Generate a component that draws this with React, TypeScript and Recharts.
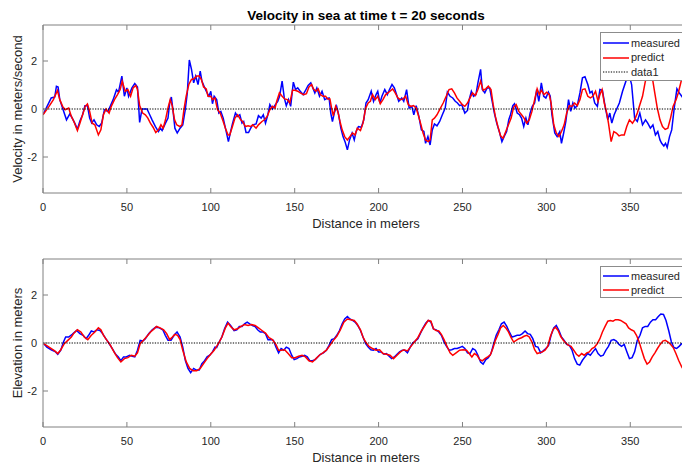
import React from 'react';
import { LineChart, Line, XAxis, YAxis, Legend } from 'recharts';

type Pt = [number, number];

// Axis setup shared by both panels
const distanceTicks = [0, 50, 100, 150, 200, 250, 300, 350];
const valueTicks = [-2, 0, 2];
const distanceDomain: [number, number] = [0, 385];
const valueDomain: [number, number] = [-3.5, 3.5];

// Velocity (m/s) along the distance (m)
const velocityMeasured: Pt[] = [
  [0, -0.24], [4.9, 0.46], [7, 0.5], [8, 0.95], [9, 0.92], [10, 0.39], [12, -0.03], [14, -0.45], [16, -0.2], [17.4, -0.38],
  [19, -0.6], [20.5, -0.84], [22, -0.5], [23.6, -0.24], [25, 0.14], [26.5, 0.14], [27.8, -0.38], [29, -0.58], [30.4, -0.45], [32, -0.66],
  [33.5, -0.73], [35, -0.58], [36.6, -0.03], [38.7, -0.1], [40, 0.1], [41.8, 0.39], [43.8, 0.8], [45, 0.7], [47, 1.37], [48.5, 0.53],
  [50, 0.88], [51, 0.53], [53, 0.88], [54.7, 1.06], [56.3, 0.92], [57.6, -0.56], [59, 0], [62, 0], [63.6, -0.24], [65, -0.45],
  [67, -0.73], [68.8, -0.94], [70, -0.8], [71, -0.9], [73, -0.59], [74.5, -0.38], [75.5, 0.25], [76.5, 0.5], [77.6, -0.14], [78.6, -0.8],
  [80, -1.0], [81.7, -0.8], [83.3, -0.66], [84.8, -0.03], [86, 0.67], [87.2, 2.04], [88.5, 1.65], [89.8, 1.09], [91, 1.37], [92.4, 1.02],
  [93.7, 1.58], [94.7, 1.16], [96, 0.95], [97.3, 0.74], [98.9, 0.53], [100, 0.74], [101, 0.22], [102, 0.53], [103.5, 0.39], [104.8, -0.17],
  [106, -0.1], [107.4, -0.38], [109.2, -0.94], [110.5, -1.36], [111.8, -0.94], [113, -0.59], [114.7, -0.17], [116, -0.31], [117.3, -0.24], [118.6, -0.59],
  [119.6, -0.52], [121, -0.98], [122.5, -0.98], [123.8, -0.8], [125, -0.66], [127, -0.62], [128.4, -0.28], [130, -0.38], [131.3, -0.24], [132.6, -0.59],
  [134, -0.24], [135.2, 0.18], [136.7, 0], [138.5, 0.18], [139.9, 0.32], [141, 0.53], [142.5, 1.16], [143.8, 0.46], [145, 0.14], [146.3, 0.39],
  [147.6, 0.11], [149.2, 1.12], [150.5, 0.81], [151.8, 0.88], [153.3, 0.74], [155, 0.6], [156.2, 0.74], [158, 0.98], [159.6, 1.09], [160.6, 0.92],
  [162, 0.67], [163.2, 0.88], [164.8, 0.53], [166.3, 0.74], [167.9, 0.39], [169, 0.43], [170.5, 0.46], [171.5, -0.17], [172.5, -0.52], [173.6, -0.17],
  [175, 0.11], [176.2, -0.24], [177.5, -0.8], [178.8, -1.15], [180, -1.36], [181.4, -1.7], [182.7, -1.29], [184.2, -1.0], [185.5, -1.29], [186.6, -0.94],
  [188, -0.73], [189.7, -0.76], [191.2, -0.45], [192.5, 0.25], [193.8, 0.39], [195.6, 0.74], [197, 0.32], [198.5, 0.6], [199.5, 0.74], [200.8, 0.25],
  [202, 0.53], [203.7, 0.81], [205.2, 0.6], [206.5, 0.81], [208, 1.02], [209.4, 0.88], [210.7, 0.6], [212, 0.32], [213.8, 0.46], [215, 0.32],
  [216.7, 0.81], [218.2, 0.04], [219.8, 0.11], [221, -0.24], [222.4, 0.14], [224, -0.31], [225.5, -0.87], [227, -0.94], [228, -1.43], [229.4, -1.15],
  [230.7, -1.5], [232, -0.87], [233.3, -0.62], [234.8, -0.7], [236.4, -0.52], [238, -0.24], [239.7, 0.04], [241, 0.7], [242.6, 0.53], [244.2, 0.46],
  [245.7, 0.32], [247, 0.25], [248.3, 0.14], [249.6, 0.18], [251.4, -0.17], [253, -0.06], [254, 0.39], [255.3, 0.74], [256.6, 0.53], [258, 0.6],
  [259.2, 1.09], [260.8, 1.65], [261.8, 0.81], [263.3, 0.67], [264.7, 0.88], [266.2, 0.88], [267.5, 0.39], [269, -0.17], [270.4, -0.59], [272.2, -1.0],
  [273.5, -1.36], [274.8, -1.15], [276.3, -0.94], [277.6, -0.45], [278.6, -0.24], [280, 0.14], [281, 0.22], [282.6, -0.17], [284, -0.24], [285.2, -0.38],
  [286.5, -0.73], [287.8, -0.38], [289, -0.66], [290.3, -0.17], [291.6, 0.11], [293, 0.25], [294.2, 0.81], [295.5, 0.32], [297, 1.09], [298.4, 0.53],
  [299.7, 0.46], [301.2, 0.7], [302.3, 0.53], [303.3, -0.24], [305, -1.0], [306.4, -1.15], [308, -0.94], [309, -1.43], [310.3, -1.0], [311.6, -0.52],
  [313.2, 0.39], [314.5, -0.1], [315.8, 0.25], [317, 0.04], [318.4, 0.14], [320, 0.67], [321.5, 1.3], [323, 1.34], [324.7, 1.02], [326, 0.67],
  [327.2, 0.74], [328.8, 0.25], [330.4, 0.11], [331.9, 0.81], [333.4, 0.78], [335, 0.11], [336.6, -0.45], [337.8, -0.17], [339, -0.59], [340.4, -0.24],
  [341.7, -0.03], [343.5, 0.25], [345.4, 0.74], [347.4, 1.16], [349.5, 1.37], [350.8, 1.02], [352.6, -0.38], [354.2, -0.52], [355.7, -0.17], [357.3, -0.66],
  [359.1, -0.45], [360.4, -0.59], [362, -0.8], [363.5, -0.66], [365, -1.08], [366.4, -0.94], [367.7, -1.29], [368.7, -1.43], [370, -1.54], [371, -1.43],
  [372, -1.6], [373.4, -1.15], [374.7, -0.87], [376.3, 0.1], [377.8, 0.84], [379.2, 0.67], [381, 0.5], [383, 0.3],
];

const velocityPredict: Pt[] = [
  [0, -0.24], [3.6, 0.11], [6.2, 0.39], [8.6, 0.77], [10, 0.39], [11.7, 0.11], [13.2, -0.03], [15.3, 0.04], [16.9, -0.31], [18.4, -0.52],
  [20.5, -0.9], [22, -0.59], [23.6, -0.24], [25.2, 0.11], [26.5, 0.21], [27.8, -0.1], [29.3, -0.59], [30.9, -0.66], [33, -1.08], [34.5, -0.87],
  [36, -0.24], [37.6, 0], [39.4, -0.17], [40.7, 0.11], [42.6, 0.39], [44.4, 0.6], [46, 0.81], [47.2, 1.16], [49, 0.74], [50.6, 0.81],
  [52.2, 0.53], [53.7, 0.88], [55.3, 0.98], [56.3, 0.81], [57.6, 0.14], [59.4, -0.17], [61, -0.24], [62.5, -0.38], [64, -0.59], [65.6, -0.76],
  [67.2, -0.98], [68.8, -0.87], [70.3, -0.66], [71.6, -0.8], [73, -0.45], [74.5, 0.04], [75.8, 0.39], [77, 0.14], [78.4, -0.45], [79.7, -0.66],
  [81.5, -0.73], [82.8, -0.66], [84, -0.03], [85.3, 0.53], [86.9, 1.02], [88.5, 1.23], [90, 1.26], [91.6, 1.37], [93.1, 1.37], [94.4, 1.23],
  [95.7, 0.92], [97.3, 0.84], [98.3, 0.53], [100, 0.53], [101, 0.39], [102.5, 0.46], [104, -0.03], [105.6, -0.17], [107.4, -0.52], [108.7, -0.8],
  [110.3, -1.08], [111.3, -1.08], [112.9, -0.73], [114.4, -0.38], [116, -0.24], [117.8, -0.45], [119, -0.52], [120.6, -0.73], [122.2, -0.7], [123.8, -0.73],
  [125, -0.66], [127, -0.8], [128.4, -0.66], [130.5, -0.52], [132, -0.45], [133.6, -0.31], [135.2, -0.03], [136.7, 0.11], [138.3, 0.04], [139.3, 0.32],
  [140.9, 0.67], [142.5, 0.53], [144, 0.42], [145.6, 0.39], [147.1, 0.25], [148.7, 0.78], [150.2, 0.78], [151.8, 0.74], [153.3, 0.67], [155.4, 0.6],
  [157, 0.64], [158.5, 0.92], [160.1, 1.02], [161.1, 0.84], [162.7, 0.74], [164, 0.84], [165.3, 0.6], [166.8, 0.53], [168.4, 0.53], [169.7, 0.42],
  [171, 0.42], [172, 0.04], [173, -0.28], [174.4, 0.11], [175.7, -0.1], [177, -0.52], [178.3, -0.87], [179.8, -1.15], [181.4, -1.29], [182.9, -1.15],
  [184.5, -1.0], [186, -1.08], [187.3, -0.8], [189.2, -0.9], [190.7, -0.59], [192.3, 0.04], [193.8, 0.25], [195.1, 0.32], [196.4, 0.6], [198, 0.39],
  [199.5, 0.53], [201, 0.22], [202.6, 0.39], [204.2, 0.6], [205.5, 0.67], [206.8, 0.74], [208.4, 0.84], [209.9, 0.67], [211.5, 0.46], [213, 0.39],
  [214.6, 0.42], [216.1, 0.53], [217.7, 0.18], [219.3, 0.11], [220.8, 0.14], [222.4, 0.04], [223.6, -0.24], [225, -0.59], [226.5, -1.0], [228, -1.29],
  [229.6, -1.36], [230.7, -1.29], [232, -0.45], [233.3, -0.38], [234.8, -0.24], [236.4, -0.03], [238.5, 0.25], [240.5, 0.56], [242, 0.81], [243.6, 0.84],
  [245.2, 0.67], [246.7, 0.46], [248.3, 0.32], [249.9, 0.18], [251.4, 0.11], [253, 0.25], [254.5, 0.46], [256, 0.67], [257.7, 0.56], [259.2, 0.81],
  [260.8, 1.16], [262.3, 0.78], [263.9, 0.84], [265.4, 0.95], [267, 0.81], [268.3, 0.18], [269.6, -0.31], [271.1, -0.73], [272.7, -1.12], [274.2, -1.22],
  [275.8, -0.94], [277.4, -0.66], [279, -0.38], [280.5, 0.08], [282, 0.18], [283.6, -0.1], [285.2, -0.24], [286.7, -0.38], [288.3, -0.59], [289.8, -0.45],
  [291.4, -0.1], [293, 0.39], [294.5, 0.84], [295.8, 0.6], [297, 0.78], [298.6, 0.6], [300.2, 0.7], [301.7, 0.6], [302.8, 0.25], [304.4, -0.66],
  [305.9, -1.0], [307.5, -1.15], [309, -0.94], [310.6, -0.66], [312.1, -0.17], [313.7, 0.14], [315.2, 0.11], [316.8, 0.25], [318.4, 0.14], [320, 0.39],
  [321.5, 0.81], [323, 0.84], [324.7, 0.53], [326.2, 0.46], [327.7, 0.53], [329.3, 0.74], [330.8, 0.32], [331.9, 0.6], [333.2, 0.81], [334.5, 0.25],
  [336, -0.17], [337, -0.59], [338.6, -1.36], [340.2, -0.94], [341.7, -1.0], [343.3, -1.12], [344.8, -1.08], [346.4, -1.08], [347.9, -0.73], [349.5, -0.45],
  [351.3, -0.59], [352.6, -0.45], [354.2, -0.17], [355.7, 0.18], [357.3, 0.53], [358.8, 1.09], [360.4, 1.58], [361.5, 1.79], [363, 1.37], [364.6, 0.67],
  [366.1, 0.04], [367.7, -0.45], [369.2, -0.73], [370.8, -0.85], [372.4, -0.8], [374, -0.38], [375.5, 0.11], [377.3, 0.39], [378.6, 0.67], [380.6, 1.23],
  [383, 1.4],
];

// Surface elevation (m) along the distance (m)
const elevationMeasured: Pt[] = [
  [0, 0], [2.3, -0.17], [4.9, -0.28], [7.5, -0.37], [8.8, -0.47], [10.6, -0.3], [12.2, 0.04], [13.5, 0.25], [15.3, 0.25], [17.4, 0.36],
  [20, 0.52], [22, 0.39], [23.9, 0.32], [25.7, 0.18], [27.2, 0.32], [28.8, 0.5], [30.4, 0.46], [32.2, 0.55], [34, 0.52], [35.5, 0.39],
  [37.4, 0.18], [39.2, 0], [41.3, -0.23], [43.3, -0.47], [44.9, -0.58], [46.4, -0.74], [48, -0.58], [49.6, -0.58], [51.6, -0.51], [53.2, -0.55],
  [54.7, -0.58], [56.3, -0.3], [57.9, 0.11], [59.4, 0.08], [61, 0.18], [63, 0.39], [65.1, 0.55], [67.2, 0.66], [69.3, 0.63], [71.4, 0.55],
  [72.9, 0.32], [74.5, 0.11], [76.3, 0.11], [78.1, 0.32], [79.9, 0.46], [81.7, 0.25], [83.3, -0.17], [84.8, -0.72], [86.4, -1.06], [88, -1.24],
  [89.8, -1.06], [91.3, -1.13], [93.1, -1.13], [94.7, -0.86], [96.3, -0.74], [97.8, -0.58], [99.4, -0.51], [101, -0.37], [102.5, -0.17], [103.5, -0.19],
  [105, 0.04], [106.6, 0.25], [108.2, 0.59], [110, 0.87], [111.8, 0.73], [113.9, 0.52], [115.5, 0.55], [117, 0.69], [118.6, 0.69], [120.1, 0.8],
  [121.7, 0.87], [123.2, 0.8], [124.8, 0.73], [126.4, 0.69], [127.9, 0.55], [129.5, 0.46], [131, 0.46], [132.6, 0.39], [134.1, 0.14], [135.7, 0.14],
  [137.3, 0.11], [138.8, -0.17], [140.4, -0.41], [141.9, -0.23], [143.5, -0.3], [145, -0.17], [146.6, -0.23], [148.2, -0.51], [149.7, -0.69], [151.3, -0.65],
  [152.8, -0.58], [154.4, -0.55], [155.9, -0.51], [157.5, -0.58], [159, -0.74], [160.6, -0.74], [162.2, -0.69], [163.7, -0.58], [165.3, -0.47], [167.1, -0.41],
  [168.9, -0.3], [170.5, -0.1], [172, 0.14], [173.6, 0.18], [175.1, 0.32], [176.7, 0.52], [178.3, 0.8], [179.8, 1.0], [181.4, 1.1], [182.9, 1.0],
  [184.5, 0.94], [186, 0.87], [187.6, 0.73], [189.2, 0.52], [190.7, 0.25], [192.3, -0.03], [193.8, -0.17], [195.4, -0.28], [196.9, -0.3], [198.5, -0.23],
  [200, -0.37], [201.6, -0.37], [203.2, -0.47], [204.7, -0.44], [206.3, -0.55], [207.8, -0.65], [209.4, -0.58], [211, -0.47], [212.5, -0.37], [214.1, -0.3],
  [215.6, -0.3], [217.2, -0.41], [218.7, -0.19], [220.3, 0], [221.8, 0.08], [223.4, 0.18], [225, 0.41], [226.5, 0.63], [228.1, 0.83], [229.6, 0.94],
  [231.2, 0.87], [232.7, 0.59], [234.3, 0.55], [235.9, 0.46], [237.4, 0.32], [239, 0.04], [240.5, -0.14], [242.1, -0.3], [243.6, -0.28], [245.2, -0.23],
  [246.8, -0.23], [248.3, -0.19], [249.9, -0.14], [251.4, -0.23], [253, -0.41], [254.5, -0.44], [256.1, -0.23], [257.7, -0.3], [259.2, -0.51], [260.8, -0.79],
  [262.3, -0.88], [263.9, -0.69], [265.4, -0.61], [267, -0.44], [268.6, -0.03], [270.1, 0.32], [271.7, 0.55], [273.2, 0.8], [274.8, 0.87], [276.4, 0.69],
  [277.9, 0.46], [279.5, 0.25], [281, 0.28], [282.6, 0.32], [284.1, 0.32], [285.7, 0.39], [287.3, 0.5], [288.8, 0.39], [290.4, 0.36], [291.9, 0.18],
  [293.5, -0.14], [295, -0.17], [296.6, -0.41], [298.1, -0.33], [299.7, -0.23], [301.3, -0.1], [302.8, 0.32], [304.4, 0.63], [305.9, 0.73], [307.5, 0.52],
  [309, 0.25], [310.6, 0.11], [312.1, -0.06], [313.7, -0.1], [315.3, -0.3], [316.8, -0.65], [318.4, -0.88], [319.9, -0.92], [321.5, -0.72], [323, -0.58],
  [324.6, -0.44], [326.2, -0.51], [327.7, -0.37], [329.3, -0.23], [330.8, -0.44], [332.4, -0.55], [333.9, -0.51], [335.5, -0.3], [337, -0.14], [338.6, 0.11],
  [340.2, 0.14], [341.7, 0.08], [343.3, -0.06], [344.8, -0.14], [346.4, -0.06], [348, -0.37], [349.5, -0.65], [351.1, -0.61], [352.6, -0.37], [354.2, 0.11],
  [355.8, 0.32], [357.3, 0.63], [358.9, 0.69], [360.4, 0.69], [362, 0.87], [363.5, 0.97], [365.1, 0.97], [366.7, 1.1], [368.2, 1.21], [369.8, 1.19],
  [371.3, 0.94], [372.9, 0.52], [374.5, 0.04], [376, -0.19], [377.6, -0.23], [379.1, -0.14], [380.6, -0.03], [383, 0.05],
];

const elevationPredict: Pt[] = [
  [0, 0], [3.6, -0.17], [7, -0.33], [8.8, -0.44], [10.6, -0.28], [12.7, -0.03], [14.8, 0.11], [16.9, 0.25], [18.4, 0.41], [20.5, 0.55],
  [22.6, 0.46], [24.6, 0.25], [26.7, 0.14], [28.8, 0.32], [30.9, 0.46], [33, 0.63], [34.5, 0.55], [36.1, 0.32], [38.1, 0.11], [40.2, -0.1],
  [42.3, -0.37], [44.4, -0.61], [46.4, -0.79], [48.5, -0.65], [50.6, -0.61], [52.7, -0.51], [54.7, -0.55], [56.3, -0.41], [57.9, -0.03], [59.9, 0.11],
  [62, 0.28], [64.1, 0.46], [66.2, 0.59], [67.7, 0.69], [69.8, 0.63], [71.9, 0.55], [73.7, 0.39], [75.5, 0.14], [77.1, 0.25], [78.6, 0.36],
  [80.2, 0.32], [81.7, 0.14], [83.3, -0.3], [85.4, -0.79], [87.4, -1.06], [89.5, -1.16], [91.6, -1.16], [93.7, -1.06], [95.7, -0.86], [97.8, -0.65],
  [99.9, -0.47], [102, -0.3], [103.5, -0.14], [105, 0.04], [106.6, 0.25], [108.7, 0.63], [110.3, 0.83], [111.8, 0.69], [113.9, 0.55], [116, 0.59],
  [118, 0.69], [120.1, 0.77], [122.2, 0.73], [124.3, 0.77], [126.4, 0.73], [128.4, 0.63], [130.5, 0.52], [132.6, 0.41], [134.7, 0.22], [136.7, 0.14],
  [138.8, -0.06], [140.4, -0.3], [141.9, -0.3], [144, -0.28], [146.1, -0.44], [148.2, -0.61], [150.2, -0.61], [152.3, -0.55], [154.4, -0.51], [156.4, -0.58],
  [158.5, -0.74], [160.6, -0.79], [162.7, -0.65], [164.7, -0.51], [166.8, -0.41], [168.9, -0.3], [171, -0.1], [173.1, 0.11], [175.1, 0.28], [177.2, 0.55],
  [179.3, 0.87], [181.4, 1.0], [183.4, 0.97], [185.5, 0.94], [187.1, 0.8], [189.2, 0.55], [190.7, 0.25], [192.3, 0.04], [194.3, -0.14], [196.4, -0.23],
  [198.5, -0.3], [200.6, -0.28], [202.6, -0.44], [204.7, -0.47], [206.8, -0.51], [208.9, -0.65], [211, -0.51], [213, -0.37], [215.1, -0.28], [217.2, -0.33],
  [219.3, -0.14], [221.3, 0.04], [223.4, 0.22], [225.5, 0.5], [227.6, 0.73], [229.6, 0.94], [231.2, 0.91], [232.7, 0.59], [234.3, 0.52], [235.9, 0.5],
  [237.4, 0.36], [239, 0.14], [241.1, -0.19], [242.6, -0.41], [244.2, -0.51], [246.2, -0.41], [248.3, -0.3], [250.4, -0.28], [252.4, -0.3], [254, -0.44],
  [255.6, -0.58], [257.1, -0.44], [258.7, -0.51], [260.3, -0.69], [261.8, -0.74], [263.4, -0.65], [265, -0.58], [266.5, -0.51], [268.1, -0.23], [269.6, 0.11],
  [271.2, 0.36], [272.7, 0.63], [274.3, 0.73], [275.8, 0.63], [277.4, 0.46], [279, 0.22], [280.5, 0.04], [282, 0.11], [283.6, 0.18], [285.2, 0.22],
  [286.7, 0.28], [288.3, 0.32], [289.8, 0.25], [291.4, 0.04], [293, -0.28], [294.5, -0.44], [296.1, -0.41], [297.6, -0.37], [299.2, -0.3], [300.8, -0.14],
  [302.3, 0.25], [303.9, 0.55], [305.4, 0.66], [307, 0.52], [308.5, 0.28], [310.1, 0.11], [311.6, 0], [313.2, -0.1], [314.7, -0.14], [316.3, -0.3],
  [317.9, -0.47], [319.4, -0.55], [321, -0.44], [322.5, -0.51], [324.1, -0.41], [325.6, -0.37], [327.2, -0.23], [328.7, -0.17], [330.3, -0.03], [331.9, 0.18],
  [333.4, 0.46], [335, 0.69], [336.6, 0.91], [338.1, 0.94], [339.7, 0.91], [341.2, 0.97], [342.8, 0.97], [344.3, 0.94], [345.9, 0.87], [347.5, 0.8],
  [349, 0.63], [350.6, 0.55], [352.2, 0.5], [353.7, 0.32], [355.3, 0.04], [356.8, -0.3], [358.4, -0.65], [360, -0.88], [361.5, -0.79], [363.1, -0.58],
  [364.7, -0.41], [366.2, -0.23], [367.8, -0.06], [369.4, 0.08], [370.9, 0.11], [372.5, 0.04], [374.1, -0.06], [375.6, -0.19], [377.2, -0.44], [378.8, -0.72],
  [380.6, -0.99], [383, -1.25],
];

// Reference line at zero ("data1")
const zeroLine: Pt[] = [[0, 0], [385, 0]];

const legendOrder = ['measured', 'predict', 'data1'];

const FONT = '"Liberation Sans", Arial, Helvetica, sans-serif';
const AXIS_COLOR = '#808080';
const TEXT_COLOR = '#262626';
const TICK_LEN = 5;

const toRows = (pts: Pt[]) => pts.map(([d, v]) => ({ d, v }));

function BottomTick(props: any) {
  const { x, y, payload } = props;
  return (
    <g>
      <line x1={x} x2={x} y1={y} y2={y - TICK_LEN} stroke={AXIS_COLOR} strokeWidth={1} />
      <text x={x} y={y + 14} textAnchor="middle" dominantBaseline="central" fontSize={11} fill={TEXT_COLOR} fontFamily={FONT}>
        {payload.value}
      </text>
    </g>
  );
}

function TopTick(props: any) {
  const { x, y } = props;
  return <line x1={x} x2={x} y1={y} y2={y + TICK_LEN} stroke={AXIS_COLOR} strokeWidth={1} />;
}

function LeftTick(props: any) {
  const { x, y, payload } = props;
  return (
    <g>
      <line x1={x} x2={x + TICK_LEN} y1={y} y2={y} stroke={AXIS_COLOR} strokeWidth={1} />
      <text x={x - 6} y={y} textAnchor="end" dominantBaseline="central" fontSize={11} fill={TEXT_COLOR} fontFamily={FONT}>
        {payload.value}
      </text>
    </g>
  );
}

function makeLegend(rowHeight: number, padTop: number) {
  return (props: any) => {
    const items = [...(props.payload || [])]
      .filter((e: any) => e.type !== 'none')
      .sort((a: any, b: any) => legendOrder.indexOf(a.value) - legendOrder.indexOf(b.value));
    return (
      <div
        style={{
          width: 86,
          boxSizing: 'border-box',
          background: '#fff',
          border: '1px solid #8c8c8c',
          paddingTop: padTop,
          fontFamily: FONT,
          fontSize: 11,
          color: TEXT_COLOR,
          lineHeight: 1,
        }}
      >
        {items.map((e: any) => (
          <div key={e.value} style={{ height: rowHeight, display: 'flex', alignItems: 'center' }}>
            <svg width={29} height={6} style={{ flex: 'none', display: 'block' }}>
              <line
                x1={2}
                x2={28}
                y1={3}
                y2={3}
                stroke={e.color}
                strokeWidth={e.payload?.strokeWidth ?? 1.5}
                strokeDasharray={e.payload?.strokeDasharray}
              />
            </svg>
            <span style={{ marginLeft: 1, whiteSpace: 'nowrap' }}>{e.value}</span>
          </div>
        ))}
      </div>
    );
  };
}

interface PanelProps {
  top: number;
  title?: string;
  yLabel: string;
  measured: Pt[];
  predict: Pt[];
  zeroInLegend: boolean;
  rowHeight: number;
  padTop: number;
}

function Panel({ top, title, yLabel, measured, predict, zeroInLegend, rowHeight, padTop }: PanelProps) {
  return (
    <div style={{ position: 'absolute', left: 0, top }}>
      <LineChart width={700} height={233} margin={{ top: 24, right: 11, bottom: 0, left: 13 }}>
        <XAxis
          xAxisId="bottom"
          type="number"
          dataKey="d"
          domain={distanceDomain}
          ticks={distanceTicks}
          interval={0}
          allowDataOverflow
          height={40}
          tickSize={0}
          tickMargin={0}
          tickLine={false}
          tick={BottomTick}
          stroke={AXIS_COLOR}
          label={(p: any) => {
            const vb = p.viewBox;
            return (
              <text
                x={vb.x + vb.width / 2}
                y={vb.y + 30}
                textAnchor="middle"
                dominantBaseline="central"
                fontSize={13}
                fill={TEXT_COLOR}
                fontFamily={FONT}
              >
                Distance in meters
              </text>
            );
          }}
        />
        <XAxis
          xAxisId="top"
          orientation="top"
          type="number"
          dataKey="d"
          domain={distanceDomain}
          ticks={distanceTicks}
          interval={0}
          allowDataOverflow
          height={1}
          tickSize={0}
          tickMargin={0}
          tickLine={false}
          tick={TopTick}
          stroke={AXIS_COLOR}
          label={
            title
              ? (p: any) => {
                  const vb = p.viewBox;
                  return (
                    <text
                      x={vb.x + vb.width / 2}
                      y={vb.y - 9}
                      textAnchor="middle"
                      dominantBaseline="central"
                      fontSize={13.5}
                      fontWeight="bold"
                      fill="#000"
                      fontFamily={FONT}
                    >
                      {title}
                    </text>
                  );
                }
              : undefined
          }
        />
        <YAxis
          type="number"
          domain={valueDomain}
          ticks={valueTicks}
          interval={0}
          allowDataOverflow
          width={30}
          tickSize={0}
          tickMargin={0}
          tickLine={false}
          tick={LeftTick}
          stroke={AXIS_COLOR}
          label={(p: any) => {
            const vb = p.viewBox;
            const cx = vb.x + 4;
            const cy = vb.y + vb.height / 2;
            return (
              <text
                x={cx}
                y={cy}
                transform={`rotate(-90 ${cx} ${cy})`}
                textAnchor="middle"
                dominantBaseline="central"
                fontSize={13}
                fill={TEXT_COLOR}
                fontFamily={FONT}
              >
                {yLabel}
              </text>
            );
          }}
        />
        <Line
          xAxisId="bottom"
          data={toRows(measured)}
          dataKey="v"
          name="measured"
          type="linear"
          stroke="#0000ff"
          strokeWidth={1.5}
          dot={false}
          activeDot={false}
          isAnimationActive={false}
        />
        <Line
          xAxisId="bottom"
          data={toRows(predict)}
          dataKey="v"
          name="predict"
          type="linear"
          stroke="#ff0000"
          strokeWidth={1.5}
          dot={false}
          activeDot={false}
          isAnimationActive={false}
        />
        <Line
          xAxisId="bottom"
          data={toRows(zeroLine)}
          dataKey="v"
          name="data1"
          type="linear"
          stroke="#000000"
          strokeWidth={1.2}
          strokeDasharray="1.3 1.3"
          dot={false}
          activeDot={false}
          legendType={zeroInLegend ? 'line' : 'none'}
          isAnimationActive={false}
        />
        <Legend
          layout="vertical"
          align="center"
          verticalAlign="middle"
          content={makeLegend(rowHeight, padTop)}
          wrapperStyle={{ left: 600, top: 32, width: 86, height: 'auto', right: 'auto', bottom: 'auto' }}
        />
      </LineChart>
    </div>
  );
}

export default function App() {
  return (
    <div
      style={{
        position: 'absolute',
        left: 0,
        top: 0,
        width: 682,
        height: 467,
        overflow: 'hidden',
        background: '#fff',
      }}
    >
      <Panel
        top={0}
        title="Velocity in sea at time t = 20 seconds"
        yLabel="Velocity in meters/second"
        measured={velocityMeasured}
        predict={velocityPredict}
        zeroInLegend
        rowHeight={14.5}
        padTop={3}
      />
      <Panel
        top={234}
        yLabel="Elevation in meters"
        measured={elevationMeasured}
        predict={elevationPredict}
        zeroInLegend={false}
        rowHeight={14}
        padTop={2}
      />
    </div>
  );
}
